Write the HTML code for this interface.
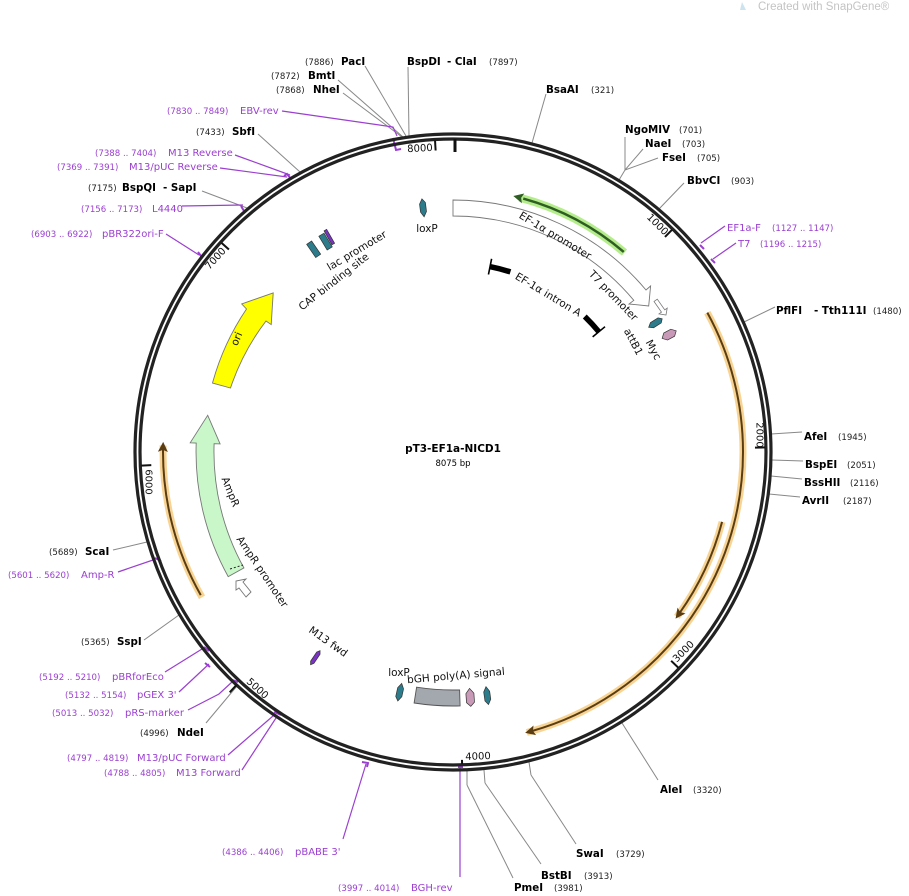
<!DOCTYPE html>
<html><head><meta charset="utf-8"><style>
html,body{margin:0;padding:0;background:#fff;}
svg{display:block;font-family:"DejaVu Sans","Liberation Sans",sans-serif;}
.b{font-weight:bold;font-size:10.3px;fill:#000;}
.n{font-size:8.6px;fill:#222;}
.p{font-size:10px;fill:#9b3fd0;}
.pn{font-size:8.6px;fill:#9b3fd0;}
.f{font-size:10.5px;fill:#111;}
.g{stroke:#888;stroke-width:1;fill:none;}
.pl{stroke:#9b3fd0;stroke-width:1.2;fill:none;}
</style></head><body>
<svg width="909" height="896" viewBox="0 0 909 896" xmlns="http://www.w3.org/2000/svg">
<text x="758" y="10" font-size="11.5" fill="#c4c4c4" font-family="Liberation Sans, sans-serif">Created with SnapGene®</text>
<path d="M742,2 l4,8 l-6,0z" fill="#cde3f0"/>

<g class="g">
<line x1="365" y1="66" x2="406" y2="136"/>
<line x1="408" y1="67" x2="409" y2="136"/>
<line x1="338" y1="80" x2="403" y2="137"/>
<line x1="343" y1="93" x2="402" y2="137"/>
<line x1="258" y1="134" x2="300" y2="172"/>
<line x1="202" y1="191" x2="247" y2="208"/>
<line x1="113" y1="550" x2="147" y2="542"/>
<line x1="144" y1="640" x2="179" y2="615"/>
<line x1="206" y1="723" x2="237" y2="686"/>
<line x1="467" y1="771" x2="467" y2="785"/><line x1="467" y1="785" x2="513" y2="878"/>
<line x1="484" y1="770" x2="485" y2="783"/><line x1="485" y1="783" x2="541" y2="864"/>
<line x1="529" y1="762" x2="531" y2="775"/><line x1="531" y1="775" x2="576" y2="844"/>
<line x1="622" y1="723" x2="658" y2="780"/>
<line x1="769" y1="494" x2="800" y2="497"/>
<line x1="771" y1="476" x2="802" y2="479"/>
<line x1="772" y1="460" x2="803" y2="461"/>
<line x1="771" y1="434" x2="802" y2="432"/>
<line x1="744" y1="322" x2="775" y2="307"/>
<line x1="659" y1="209" x2="684" y2="183"/>
<line x1="619" y1="180" x2="625" y2="170"/><line x1="625" y1="170" x2="625" y2="137"/>
<line x1="625" y1="170" x2="643" y2="149"/><line x1="625" y1="170" x2="658" y2="158"/>
<line x1="532" y1="143" x2="546" y2="94"/>
</g>
<g class="pl">
<polyline points="282,111 393,127 397,136"/>
<polyline points="235,155 290,175"/>
<polyline points="220,168 287,177"/>
<polyline points="182,206 243,205"/>
<polyline points="166,234 199,255"/>
<polyline points="118,572 153,560"/>
<polyline points="165,672 202,649"/>
<polyline points="179,692 209,664"/>
<polyline points="188,710 219,694 232,682"/>
<polyline points="228,755 273,716"/>
<polyline points="242,770 276,718"/>
<polyline points="343,839 366,764"/>
<polyline points="460,877 460,766"/>
<polyline points="725,226 701,243"/>
<polyline points="736,243 713,259"/>
</g>
<g stroke="#9b3fd0" stroke-width="2" fill="none">
<path d="M393,138 l3,12 l5,-1"/>
<path d="M284,176 l3,-2 l4,5"/>
<path d="M241,206 l3,5"/>
<path d="M198,252 l3,4"/>
<path d="M155,558 l6,3"/>
<path d="M204,647 l5,4"/>
<path d="M205,663 l5,4"/>
<path d="M232,680 l6,2"/>
<path d="M274,712 l7,3"/>
<path d="M362,762 l6,1 l-1,4"/>
<path d="M458,767 l4,0 l0,-4"/>
<path d="M700,245 l4,4"/>
<path d="M711,259 l4,4"/>
</g>

<circle cx="453" cy="452" r="318" fill="none" stroke="#222" stroke-width="3.2"/>
<circle cx="453" cy="452" r="313" fill="none" stroke="#222" stroke-width="3.2"/>
<g stroke="#111" stroke-width="2">
<line x1="455" y1="139" x2="455" y2="152" stroke-width="3"/>
<g transform="rotate(356.7 453 452)"><line x1="453" y1="140" x2="453" y2="150"/></g>
<g transform="rotate(44.58 453 452)"><line x1="453" y1="140" x2="453" y2="150"/></g>
<g transform="rotate(89.16 453 452)"><line x1="453" y1="140" x2="453" y2="150"/></g>
<g transform="rotate(133.75 453 452)"><line x1="453" y1="140" x2="453" y2="150"/></g>
<g transform="rotate(178.33 453 452)"><line x1="453" y1="140" x2="453" y2="144"/></g>
<g transform="rotate(222.9 453 452)"><line x1="453" y1="134" x2="453" y2="124"/></g>
<g transform="rotate(267.5 453 452)"><line x1="453" y1="140" x2="453" y2="150"/></g>
<g transform="rotate(312.1 453 452)"><line x1="453" y1="140" x2="453" y2="150"/></g>
</g>
<g font-size="10" fill="#111" text-anchor="middle" dominant-baseline="central">
<text transform="translate(420,149) rotate(-3)">8000</text>
<text transform="translate(657,225) rotate(45)">1000</text>
<text transform="translate(759,435) rotate(90)">2000</text>
<text transform="translate(684,652) rotate(-45)">3000</text>
<text transform="translate(478,757) rotate(-2)">4000</text>
<text transform="translate(257,689) rotate(42)">5000</text>
<text transform="translate(148,482) rotate(90)">6000</text>
<text transform="translate(216,259) rotate(-48)">7000</text>
</g>

<g fill="none" transform="rotate(-90 453 452)">
<circle cx="453" cy="452" r="290" pathLength="360" stroke="#f6c979" stroke-opacity="0.8" stroke-width="7" stroke-dasharray="104 400" stroke-dashoffset="-61.3"/>
<circle cx="453" cy="452" r="290" pathLength="360" stroke="#5a3d12" stroke-width="2" stroke-dasharray="103 400" stroke-dashoffset="-61.3"/>
<circle cx="453" cy="452" r="278" pathLength="360" stroke="#f6c979" stroke-opacity="0.8" stroke-width="7" stroke-dasharray="21.8 400" stroke-dashoffset="-104.6"/>
<circle cx="453" cy="452" r="278" pathLength="360" stroke="#5a3d12" stroke-width="2" stroke-dasharray="21 400" stroke-dashoffset="-104.6"/>
<circle cx="453" cy="452" r="290" pathLength="360" stroke="#f6c979" stroke-opacity="0.8" stroke-width="7" stroke-dasharray="31.4 400" stroke-dashoffset="-240"/>
<circle cx="453" cy="452" r="290" pathLength="360" stroke="#5a3d12" stroke-width="2" stroke-dasharray="30.5 400" stroke-dashoffset="-240.5"/>
</g>
<g fill="#5a3d12">
<polygon transform="rotate(165.2 453 452)" points="455,162 445,157 447,162 445,167"/>
<polygon transform="rotate(126.4 453 452)" points="455,174 445,169 447,174 445,179"/>
<polygon transform="rotate(271.6 453 452)" points="455,162 445,157 447,162 445,167"/>
</g>

<path d="M453,200 A252,252 0 0 1 646,290 L650.6,286 L648.7,306 L629,304 L633.8,300.3 A236,236 0 0 0 453,216 Z" fill="#fff" stroke="#777" stroke-width="0.9"/>
<polygon transform="rotate(55 453 452)" points="445,197 458,197 458,194 463,199 458,204 458,201 445,201" fill="#fff" stroke="#777" stroke-width="0.8"/>
<g fill="none" transform="rotate(-90 453 452)">
<circle cx="453" cy="452" r="263" pathLength="360" stroke="#b5ec8c" stroke-width="8" stroke-dasharray="26 400" stroke-dashoffset="-14.7"/>
<circle cx="453" cy="452" r="263" pathLength="360" stroke="#2f5e22" stroke-width="2.5" stroke-dasharray="25 400" stroke-dashoffset="-15.5"/>
</g>
<polygon transform="rotate(13.7 453 452)" points="451,189 461,184 459,189 461,194" fill="#2f5e22"/>
<g fill="none" transform="rotate(-90 453 452)">
<circle cx="453" cy="452" r="189" pathLength="360" stroke="#000" stroke-width="5.5" stroke-dasharray="6.3 400" stroke-dashoffset="-11.4"/>
<circle cx="453" cy="452" r="189" pathLength="360" stroke="#000" stroke-width="5.5" stroke-dasharray="6.3 400" stroke-dashoffset="-44.2"/>
</g>
<g stroke="#000" stroke-width="1.6">
<line transform="rotate(11.3 453 452)" x1="453" y1="255" x2="453" y2="271"/>
<line transform="rotate(50.5 453 452)" x1="453" y1="255" x2="453" y2="271"/>
</g>
<path d="M212.5,383 A249,249 0 0 1 246.5,309 L241.7,303.9 L273.2,292.9 L271.2,324.6 L266,321 A231,231 0 0 0 230.5,388 Z" fill="#ffff00" stroke="#777" stroke-width="0.9"/>
<path d="M228.2,576.6 A257,257 0 0 1 196.2,443 L190.2,442.8 L207.7,415.3 L220.1,443.9 L214.1,443.7 A239,239 0 0 0 243.9,567.9 Z" fill="#c9f7c9" stroke="#777" stroke-width="0.9"/>
<line x1="230" y1="569" x2="243" y2="565" stroke="#222" stroke-dasharray="2 2"/>
<polygon points="246,597 251,592 243,582 246,579 236,581 236,590 239,588" fill="#fff" stroke="#777" stroke-width="0.9"/>
<path d="M460.1,705.9 A254,254 0 0 1 414.1,703 L416.6,687.2 A238,238 0 0 0 459.6,689.9 Z" fill="#a3a7ae" stroke="#555" stroke-width="0.9"/>
<g stroke="#333" stroke-width="0.7">
<polygon transform="rotate(353 453 452)" points="453,197 456,201 456,210 453,215 450,210 450,202" fill="#2d7c8c"/>
<polygon transform="rotate(57.5 453 452)" points="453,204 456,207 456,216 453,220 450,216 450,207" fill="#2d7c8c"/>
<polygon transform="rotate(61.5 453 452)" points="453,198 457,202 457,210 453,214 449,210 449,202" fill="#c99ab8"/>
<polygon transform="rotate(325.5 453 452)" points="450,198 456,198 456,214 450,214" fill="#2d7c8c"/>
<polygon transform="rotate(328.8 453 452)" points="450,198 456,198 456,214 450,214" fill="#2d7c8c"/>
<polygon transform="rotate(330.2 453 452)" points="451,196 454,196 454,212 451,212" fill="#7b33c4"/>
<polygon transform="rotate(213.8 453 452)" points="453,196 455,199 455,210 453,213 451,210 451,199" fill="#7b33c4"/>
<polygon transform="rotate(192.5 453 452)" points="453,197 456,201 456,210 453,215 450,210 450,202" fill="#2d7c8c"/>
<polygon transform="rotate(176 453 452)" points="453,197 457,201 457,210 453,215 449,210 449,201" fill="#c99ab8"/>
<polygon transform="rotate(172 453 452)" points="453,197 456,201 456,210 453,215 450,210 450,202" fill="#2d7c8c"/>
</g>

<g class="f" text-anchor="middle" dominant-baseline="central">
<text transform="translate(555,236) rotate(31)">EF-1α promoter</text>
<text transform="translate(613,296) rotate(46)">T7 promoter</text>
<text transform="translate(548,295) rotate(31)">EF-1α intron A</text>
<text transform="translate(633,342) rotate(62)">attB1</text>
<text transform="translate(653,350) rotate(62)">Myc</text>
<text x="427" y="229">loxP</text>
<text transform="translate(357,251) rotate(-31)">lac promoter</text>
<text transform="translate(334,282) rotate(-38)">CAP binding site</text>
<text transform="translate(237,339) rotate(-66)">ori</text>
<text transform="translate(230,492) rotate(68)">AmpR</text>
<text transform="translate(262,572) rotate(56)">AmpR promoter</text>
<text transform="translate(328,642) rotate(35)">M13 fwd</text>
<text x="399" y="673">loxP</text>
<text transform="translate(456,676) rotate(-5)">bGH poly(A) signal</text>
</g>
<text x="453" y="452" text-anchor="middle" font-weight="bold" font-size="10.5">pT3-EF1a-NICD1</text>
<text x="453" y="466" text-anchor="middle" font-size="8.5">8075 bp</text>

<text class="n" x="305" y="65">(7886)</text><text class="b" x="341" y="65">PacI</text>
<text class="b" x="407" y="65">BspDI</text><text class="b" x="447" y="65">- ClaI</text><text class="n" x="489" y="65">(7897)</text>
<text class="n" x="271" y="79">(7872)</text><text class="b" x="308" y="79">BmtI</text>
<text class="n" x="276" y="93">(7868)</text><text class="b" x="313" y="93">NheI</text>
<text class="pn" x="167" y="114">(7830 .. 7849)</text><text class="p" x="240" y="114">EBV-rev</text>
<text class="n" x="196" y="135">(7433)</text><text class="b" x="232" y="135">SbfI</text>
<text class="pn" x="95" y="156">(7388 .. 7404)</text><text class="p" x="168" y="156">M13 Reverse</text>
<text class="pn" x="57" y="170">(7369 .. 7391)</text><text class="p" x="129" y="170">M13/pUC Reverse</text>
<text class="n" x="88" y="191">(7175)</text><text class="b" x="122" y="191">BspQI</text><text class="b" x="163" y="191">- SapI</text>
<text class="pn" x="81" y="212">(7156 .. 7173)</text><text class="p" x="152" y="212">L4440</text>
<text class="pn" x="31" y="237">(6903 .. 6922)</text><text class="p" x="102" y="237">pBR322ori-F</text>
<text class="n" x="49" y="555">(5689)</text><text class="b" x="85" y="555">ScaI</text>
<text class="pn" x="8" y="578">(5601 .. 5620)</text><text class="p" x="81" y="578">Amp-R</text>
<text class="n" x="81" y="645">(5365)</text><text class="b" x="117" y="645">SspI</text>
<text class="pn" x="39" y="680">(5192 .. 5210)</text><text class="p" x="112" y="680">pBRforEco</text>
<text class="pn" x="65" y="698">(5132 .. 5154)</text><text class="p" x="137" y="698">pGEX 3'</text>
<text class="pn" x="52" y="716">(5013 .. 5032)</text><text class="p" x="125" y="716">pRS-marker</text>
<text class="n" x="140" y="736">(4996)</text><text class="b" x="177" y="736">NdeI</text>
<text class="pn" x="67" y="761">(4797 .. 4819)</text><text class="p" x="137" y="761">M13/pUC Forward</text>
<text class="pn" x="104" y="776">(4788 .. 4805)</text><text class="p" x="176" y="776">M13 Forward</text>
<text class="pn" x="222" y="855">(4386 .. 4406)</text><text class="p" x="295" y="855">pBABE 3'</text>
<text class="pn" x="338" y="891">(3997 .. 4014)</text><text class="p" x="411" y="891">BGH-rev</text>
<text class="b" x="514" y="891">PmeI</text><text class="n" x="554" y="891">(3981)</text>
<text class="b" x="541" y="879">BstBI</text><text class="n" x="584" y="879">(3913)</text>
<text class="b" x="576" y="857">SwaI</text><text class="n" x="616" y="857">(3729)</text>
<text class="b" x="660" y="793">AleI</text><text class="n" x="693" y="793">(3320)</text>
<text class="b" x="802" y="504">AvrII</text><text class="n" x="843" y="504">(2187)</text>
<text class="b" x="804" y="486">BssHII</text><text class="n" x="850" y="486">(2116)</text>
<text class="b" x="805" y="468">BspEI</text><text class="n" x="847" y="468">(2051)</text>
<text class="b" x="804" y="440">AfeI</text><text class="n" x="838" y="440">(1945)</text>
<text class="b" x="776" y="314">PflFI</text><text class="b" x="814" y="314">- Tth111I</text><text class="n" x="873" y="314">(1480)</text>
<text class="p" x="738" y="247">T7</text><text class="pn" x="760" y="247">(1196 .. 1215)</text>
<text class="p" x="727" y="231">EF1a-F</text><text class="pn" x="772" y="231">(1127 .. 1147)</text>
<text class="b" x="687" y="184">BbvCI</text><text class="n" x="731" y="184">(903)</text>
<text class="b" x="662" y="161">FseI</text><text class="n" x="697" y="161">(705)</text>
<text class="b" x="645" y="147">NaeI</text><text class="n" x="682" y="147">(703)</text>
<text class="b" x="625" y="133">NgoMIV</text><text class="n" x="679" y="133">(701)</text>
<text class="b" x="546" y="93">BsaAI</text><text class="n" x="591" y="93">(321)</text>
</svg>
</body></html>
